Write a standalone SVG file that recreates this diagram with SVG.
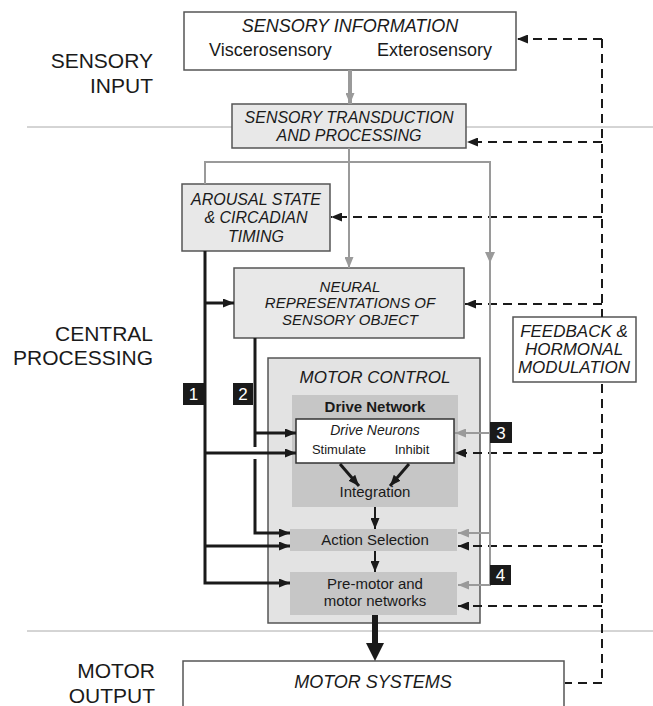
<svg xmlns="http://www.w3.org/2000/svg" width="653" height="706" viewBox="0 0 653 706">
<style>
text{font-family:"Liberation Sans",Arial,sans-serif;fill:#1a1a1a}
.side{font-size:21px;text-anchor:end}
.it{font-style:italic}
.c{text-anchor:middle}
.box{stroke:#555;stroke-width:1.5}
.lt{fill:#e8e8e8}
.dk{fill:#c6c6c6}
.wh{fill:#fff}
.sep{stroke:#aaa;stroke-width:1;fill:none}
.blk{stroke:#1a1a1a;stroke-width:3;fill:none}
.gry{stroke:#9a9a9a;stroke-width:2;fill:none}
.dsh{stroke:#1a1a1a;stroke-width:2;fill:none;stroke-dasharray:9 6}
.lab{fill:#1a1a1a}
.labt{fill:#fff;font-size:17px;text-anchor:middle}
</style>
<defs>
<marker id="ab" markerUnits="userSpaceOnUse" markerWidth="11" markerHeight="9" refX="11" refY="4.5" orient="auto"><path d="M0,0 L11,4.5 L0,9 z" fill="#1a1a1a"/></marker>
<marker id="ag" markerUnits="userSpaceOnUse" markerWidth="11" markerHeight="9" refX="11" refY="4.5" orient="auto"><path d="M0,0 L11,4.5 L0,9 z" fill="#9a9a9a"/></marker>
<marker id="ad" markerUnits="userSpaceOnUse" markerWidth="11" markerHeight="9" refX="11" refY="4.5" orient="auto"><path d="M0,0 L11,4.5 L0,9 z" fill="#1a1a1a"/></marker>
</defs>

<g id="sections">
<line class="sep" x1="27" y1="127" x2="653" y2="127"/>
<line class="sep" x1="27" y1="631" x2="653" y2="631"/>
<text class="side" x="153" y="68">SENSORY</text>
<text class="side" x="153" y="93">INPUT</text>
<text class="side" x="153" y="341">CENTRAL</text>
<text class="side" x="153" y="365">PROCESSING</text>
<text class="side" x="155" y="678">MOTOR</text>
<text class="side" x="155" y="703">OUTPUT</text>
</g>

<g id="sensory-information">
<rect class="box wh" x="184" y="12" width="332" height="58"/>
<text class="it c" x="350" y="32" font-size="18">SENSORY INFORMATION</text>
<text x="209" y="56" font-size="18">Viscerosensory</text>
<text x="492" y="56" font-size="18" text-anchor="end">Exterosensory</text>
</g>

<g id="sensory-transduction">
<rect class="box lt" x="232" y="104" width="234" height="44"/>
<text class="it c" x="349" y="123" font-size="16">SENSORY TRANSDUCTION</text>
<text class="it c" x="349" y="141" font-size="16">AND PROCESSING</text>
</g>

<g id="arousal">
<rect class="box lt" x="182" y="184" width="148" height="67"/>
<text class="it c" x="256" y="205" font-size="16">AROUSAL STATE</text>
<text class="it c" x="256" y="223" font-size="16">&amp; CIRCADIAN</text>
<text class="it c" x="256" y="242" font-size="16">TIMING</text>
</g>

<g id="neural-representations">
<rect class="box lt" x="234" y="268" width="230" height="70"/>
<text class="it c" x="350" y="292" font-size="15">NEURAL</text>
<text class="it c" x="350" y="308" font-size="15">REPRESENTATIONS OF</text>
<text class="it c" x="350" y="325" font-size="15">SENSORY OBJECT</text>
</g>

<g id="feedback">
<rect class="box wh" x="513" y="317" width="123" height="65"/>
<text class="it c" x="574" y="337" font-size="17">FEEDBACK &amp;</text>
<text class="it c" x="574" y="355" font-size="17">HORMONAL</text>
<text class="it c" x="574" y="373" font-size="17">MODULATION</text>
</g>

<g id="motor-control">
<rect class="box" fill="#e3e3e3" x="268" y="358" width="212" height="265"/>
<text class="it c" x="375" y="383" font-size="17">MOTOR CONTROL</text>
</g>

<g id="drive-network">
<rect class="dk" x="292" y="395" width="166" height="112"/>
<text class="c" x="375" y="412" font-size="15" font-weight="bold">Drive Network</text>
</g>

<g id="drive-neurons">
<rect class="wh" stroke="#333" stroke-width="1.5" x="296" y="419" width="158" height="44"/>
<text class="it c" x="375" y="435" font-size="14">Drive Neurons</text>
<text class="c" x="339" y="454" font-size="13">Stimulate</text>
<text class="c" x="412" y="454" font-size="13">Inhibit</text>
</g>

<g id="integration">
<text class="c" x="375" y="497" font-size="15">Integration</text>
</g>

<g id="action-selection">
<rect class="dk" x="290" y="529" width="167" height="22"/>
<text class="c" x="375" y="545" font-size="15">Action Selection</text>
</g>

<g id="premotor">
<rect class="dk" x="290" y="572" width="167" height="43"/>
<text class="c" x="375" y="589" font-size="15">Pre-motor and</text>
<text class="c" x="375" y="606" font-size="15">motor networks</text>
</g>

<g id="motor-systems">
<rect class="box wh" x="183" y="661" width="381" height="50"/>
<text class="it c" x="373" y="688" font-size="18">MOTOR SYSTEMS</text>
</g>

<g id="connectors">
<path class="dsh" d="M602,39 V317"/>
<path class="dsh" d="M602,384 V683"/>
<path class="dsh" d="M602,39 H517" marker-end="url(#ad)"/>
<path class="dsh" d="M602,142 H467" marker-end="url(#ad)"/>
<path class="dsh" d="M602,217 H331" marker-end="url(#ad)"/>
<path class="dsh" d="M602,304 H465" marker-end="url(#ad)"/>
<path class="dsh" d="M602,453 H455" marker-end="url(#ad)"/>
<path class="dsh" d="M602,546 H458" marker-end="url(#ad)"/>
<path class="dsh" d="M602,606 H458" marker-end="url(#ad)"/>
<path class="dsh" d="M602,683 H565"/>
<path d="M350,70 V104" stroke="#9a9a9a" stroke-width="4" fill="none" marker-end="url(#ag)"/>
<path class="gry" d="M349,148 V268" marker-end="url(#ag)"/>
<path class="gry" d="M205,184 V162 H490 V585 H458" marker-end="url(#ag)"/>
<path d="M485,252 L490,263 L495,252 z" fill="#9a9a9a"/>
<path class="gry" d="M490,433 H455" marker-end="url(#ag)"/>
<path class="gry" d="M490,533 H458" marker-end="url(#ag)"/>
<path class="blk" d="M205,251 V583 H290" marker-end="url(#ab)"/>
<path class="blk" d="M205,303 H234" marker-end="url(#ab)"/>
<path class="blk" d="M205,453 H296" marker-end="url(#ab)"/>
<path class="blk" d="M205,546 H290" marker-end="url(#ab)"/>
<path class="blk" d="M255,338 V447"/>
<path class="blk" d="M255,459 V533 H290" marker-end="url(#ab)"/>
<path class="blk" d="M255,433 H296" marker-end="url(#ab)"/>
<path class="blk" d="M340,464 L359,486" marker-end="url(#ab)"/>
<path class="blk" d="M409,464 L390,486" marker-end="url(#ab)"/>
<path d="M375,507 V529" stroke="#1a1a1a" stroke-width="2" fill="none" marker-end="url(#ab)"/>
<path d="M375,551 V572" stroke="#1a1a1a" stroke-width="2" fill="none" marker-end="url(#ab)"/>
<path d="M375,615 V645" stroke="#1a1a1a" stroke-width="6" fill="none"/>
<path d="M366,643 L375,661 L384,643 z" fill="#1a1a1a"/>
</g>

<g id="label-1"><rect class="lab" x="183" y="383" width="21" height="22"/><text class="labt" x="193.5" y="400">1</text></g>
<g id="label-2"><rect class="lab" x="233" y="383" width="20" height="22"/><text class="labt" x="243" y="400">2</text></g>
<g id="label-3"><rect class="lab" x="490" y="422" width="22" height="21"/><text class="labt" x="501" y="439">3</text></g>
<g id="label-4"><rect class="lab" x="490" y="565" width="21" height="20"/><text class="labt" x="500.5" y="581">4</text></g>
</svg>
